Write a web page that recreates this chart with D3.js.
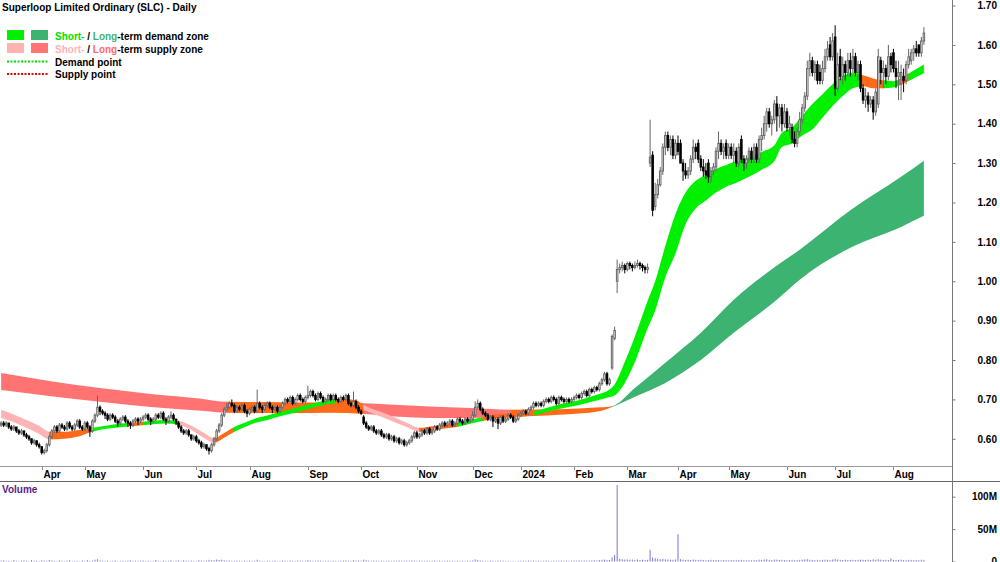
<!DOCTYPE html>
<html>
<head>
  <meta charset="utf-8">
  <style>
    body { margin: 0; background: #fff; }
    svg { display: block; font-family: "Liberation Sans", Arial, sans-serif; }
  </style>
</head>
<body>
  <div id="chart"></div>
  <script src="https://d3js.org/d3.v7.min.js"></script>
  <script>
    // daily bars, prices in cents (Mar 2023 - Aug 2024, trading days only)
    var opens = [
      63.5,64,63.5,64,63,62.5,63,62,61.5,62, 61,60.5,60,59,59.5,58.5,58,56.5,57,58.5,
      60.5,62,63,62,63.5,63,62.5,64,63,62.5, 63.5,64.5,63,62.5,64,63,62,64.5,66,68,
      67,66.5,66,65,66,65.5,64.5,64,65,65.5, 64.5,64,63.5,64.5,65,64.5,65,65.5,66,65,
      64.5,65,66,65.5,66.5,65,64.5,65.5,66,65, 64,63,62,61.5,62,61,60,60.5,59.5,59,
      58,58.5,57.5,57,58.5,60,62,63.5,66,67.5, 68,69,68.5,67,68,67.5,68.5,67,66.5,67.5,
      68,67,69,68,67.5,68.5,69,68,67.5,68, 67,68,69,70,69.5,70.5,69,70,71,70,
      69.5,70.5,71,72,71,70,71.5,70.5,69.5,70, 71,70,71,70,69.5,70.5,70,71,69,68.5,
      69.5,68,67,65.5,64,63,62.5,63,62,61.5, 62,61,60.5,61,60,60.5,59.5,60,59,59.5,
      58.5,59,59.5,60.5,61.5,60.5,61,62,61.5,62.5, 61.5,62,63,62.5,63.5,64,63.5,64,64.5,63.5,
      64,65,64.5,64,65,64.5,65,66,68,69, 67.5,66.5,66,65,65.5,64.5,65,64,65.5,64.5,
      65,66,65.5,64.5,65,66,66.5,67,66.5,67.5, 68,69,68.5,69,68.5,69.5,70,69.5,70.5,70,
      69,70.5,70,69.5,70,69.5,70,70.5,71,70.5, 71.5,72,71,72.5,72,73,72.5,74,75,76.5,
      74,78,85.5,100,103,103.5,104,103,104.5,104, 103.5,104,104.5,104,103.5,103,130,132,119,122,
      124.5,128,134,137,134,136,132,135,135,130, 128,127,128,131,134,135,131,129,128,130,
      126.5,128,129,133,135,133,135,132,134,132, 133,130,136,131,130,131,133,131,134,131,
      136,137,140,143,140,141,145,142,144,140, 143,139,139,136,135,138,141,144,147,154,
      156,153,155,153,151,154,157,160,157,162, 149,157,152,155,153,156,154,157,153,155,
      149,146,147,145,146,143,145,156,153,154, 152,157,158,154,152,150,152,151,155,156,
      158,159,160,158,161
    ];
    var highs = [
      64.5,64.5,64.5,64,63.5,63.5,63,62.5,62.5,62, 61.5,61,60,60,59.5,59,58,57.5,59,61,
      62.5,63.5,63.5,64,64,63.5,64.5,64.5,63.5,64, 65,65,63.5,64.5,64.5,63.5,65,66.5,71,68.5,
      67.5,67,66.5,66.5,66.5,66,65,65.5,66,66, 65,64.5,65,65.5,65.5,65.5,66,66.5,66.5,65.5,
      65.5,66.5,66.5,67,67,65.5,66,67,66.5,65, 64.5,63.5,62.5,62.5,62.5,61,61,61,60,59.5,
      59,58.5,58,59,60.5,62.5,64,66.5,68,69, 69.5,70,69,68.5,68.5,69,69,67.5,68,68.5,
      68.5,72.5,69.5,68.5,69,69.5,69.5,68.5,68.5,68.5, 68.5,69.5,70.5,70.5,71,71,70.5,71.5,71.5,70.5,
      71,73.5,72.5,72.5,71.5,72,72,71,70.5,71.5, 71.5,71.5,71.5,70.5,71,71,71.5,71.5,69.5,72,
      70,68.5,67.5,66,64.5,63.5,63.5,63.5,62.5,62.5, 62.5,61.5,61.5,61.5,61,61,60.5,60.5,60,60,
      59.5,60,61,62,62,61.5,62.5,62.5,63,63, 62.5,63.5,63.5,64,64.5,64.5,64.5,65,65,64.5,
      65.5,65.5,65,65.5,65.5,65.5,67,69.5,70,69.5, 68,67,66.5,66,66,65.5,65.5,66,66,65.5,
      66.5,66.5,66,65.5,66.5,67,67.5,67.5,68,68.5, 69.5,69.5,69.5,69.5,70,70.5,70.5,71,71,70.5,
      71,71,70.5,70.5,70.5,70.5,71,71.5,71.5,72, 72.5,72.5,73,73,73.5,73.5,74.5,75.5,77,77,
      75.5,86.5,88.5,105.5,104.5,105,104.5,105,105,104.5, 105,105.5,105,104.5,104,104.5,141,133,125,126,
      129,135,138,138,137,137,136,137,136,131, 130,129,132,136,135,136,132,131,130,131,
      129,130,134,138,136,135,136,135,135,135, 134,135,137,132,132,134,134,135,135,137,
      139,142,144,144,142,146,147,145,145,145, 144,142,140,138,139,143,145,148,156,158,
      157,156,156,155,156,159,161,162,163,165, 158,159,157,156,158,158,159,158,156,156,
      150,149,148,147,147,149,159,157,156,155, 160,158,159,156,156,155,154,156,159,159,
      160,161,160,162,164.5
    ];
    var lows = [
      63,63,63,62.5,62,62,61.5,61,61,60.5, 60,59.5,58.5,58.5,58,57.5,56,56,56.5,58,
      60,61.5,61.5,61.5,62.5,62,62,62.5,62,62, 63,62.5,62,62,62.5,60.5,61.5,64,65.5,66,
      66,65,64.5,64.5,65,64,63,63.5,64.5,64, 63,62.5,63,64,63.5,64,64.5,65,64.5,63.5,
      64,64.5,65,65,64.5,63.5,64,65,64.5,63.5, 62.5,61.5,61,61,60.5,59.5,59.5,59,58.5,57.5,
      57.5,57,56,56.5,58,59.5,61.5,63,65.5,67, 67.5,68,66.5,66.5,67,67,66.5,65.5,66,67,
      66.5,66.5,67.5,66.5,67,68,67.5,66.5,67,66.5, 66.5,67.5,68.5,69,69,68.5,68.5,69.5,69.5,69,
      69,70,70.5,70.5,69.5,69.5,70,69,69,69.5, 69.5,69.5,69.5,69,69,69.5,69.5,68.5,68,68,
      67.5,66.5,66,63.5,62.5,62,62,61.5,61,61, 60.5,60,60,59.5,59.5,59,59,58.5,58.5,58,
      58,58.5,59,60,60,60,60.5,61,61,61, 61,61.5,62,62,63,63,63,63.5,63,63,
      63.5,64,63.5,63.5,64,64,64.5,65.5,67.5,67, 66,65.5,64.5,64.5,63,64,62.5,63.5,64,64,
      64.5,65,64,64,64.5,65.5,66,66,66,67, 67.5,68,68,68,68,69,69,69,69.5,68.5,
      68.5,69.5,69,69,69,69,69.5,70,70,70, 71,70.5,70.5,71.5,71.5,72,72,73.5,74.5,73.5,
      73.5,77.5,85,97,102,102.5,102,102.5,103,102.5, 103,103.5,103,102.5,102,102,129,116.5,118,121,
      124,127,132,133,132,131,131,132,130,125.5, 126,126,127,130,131,130,128,126.5,126,125,
      125,127,128,131,132,131,131,131,131,130, 129,129,130,128,128.5,130,130,130,130,130,
      133,136,138,139,137,140,138,139,138,139, 138,137,135,134,134,137,140,143,146,152,
      152,151,150,150,150,153,156,156,156,147, 148,151,150,151,152,152,153,152,151,148,
      145,144,143,144,141,142,144,150,149,150, 151,153,153,149,146,146,148,150,154,155,
      156,157,157,157,160
    ];
    var closes = [
      64,63.5,64,63,62.5,63,62,61.5,62,61, 60.5,60,59,59.5,58.5,58,56.5,57,58.5,60.5,
      62,63,62,63.5,63,62.5,64,63,62.5,63.5, 64.5,63,62.5,64,63,62,64.5,66,68,67,
      66.5,66,65,66,65.5,64.5,64,65,65.5,64.5, 64,63.5,64.5,65,64.5,65,65.5,66,65,64.5,
      65,66,65.5,66.5,65,64.5,65.5,66,65,64, 63,62,61.5,62,61,60,60.5,59.5,59,58,
      58.5,57.5,57,58.5,60,62,63.5,66,67.5,68, 69,68.5,67,68,67.5,68.5,67,66.5,67.5,68,
      67,69,68,67.5,68.5,69,68,67.5,68,67, 68,69,70,69.5,70.5,69,70,71,70,69.5,
      70.5,71,72,71,70,71.5,70.5,69.5,70,71, 70,71,70,69.5,70.5,70,71,69,68.5,69.5,
      68,67,66.5,64,63,62.5,63,62,61.5,62, 61,60.5,61,60,60.5,59.5,60,59,59.5,58.5,
      59,59.5,60.5,61.5,60.5,61,62,61.5,62.5,61.5, 62,63,62.5,63.5,64,63.5,64,64.5,63.5,64,
      65,64.5,64,65,64.5,65,66,68,69,67.5, 66.5,66,65,65.5,64.5,65,64,65.5,64.5,65,
      66,65.5,64.5,65,66,66.5,67,66.5,67.5,68, 69,68.5,69,68.5,69.5,70,69.5,70.5,70,69,
      70.5,70,69.5,70,69.5,70,70.5,71,70.5,71.5, 72,71,72.5,72,73,72.5,74,75,76.5,74,
      75,86,87.5,103,103.5,104,103,104.5,104,103.5, 104,104.5,104,103.5,103,103.5,131.5,118,122,124.5,
      128,134,137,134,136,132,135,133,130,128, 127,128,131,134,133,131,129,128,127,126.5,
      128,129,133,135,133,134,132,134,132,133, 130,134,131,130,131,133,131,134,131,136,
      137,140,143,140,141,145,142,144,140,143, 139,140,136,135,138,141,144,147,154,156,
      153,155,151,151,154,157,159,157,161,149, 155,152,155,153,156,154,157,153,155,149,
      146,147,145,146,143,148,157,153,154,152, 157,155,154,152,153,153,151,155,157,158,
      159,158,158,161,163
    ];
    // volume in millions of shares
    var volumes = [
      1.5,2,1,1.2,0.8,2.2,1,0.6,1.4,1.8, 1,0.7,2.5,1.1,1.3,0.9,2,1.5,1.2,2.4,
      1.6,1,0.8,1.9,1.2,0.7,1.4,2.1,0.9,1.1, 1.3,0.6,1.7,1,2.2,0.8,1.5,2.8,3.5,1.6,
      1.2,0.9,1.4,0.7,1.1,1.8,0.6,1,1.3,0.9, 1.5,2,0.8,1.1,0.7,1.2,1.6,0.9,1.3,0.8,
      1,2.3,1.2,0.7,1.5,0.9,1.1,1.8,0.6,1.4, 1.7,1,2,1.3,0.9,1.5,1.2,0.8,2.1,1.6,
      1.1,1.4,2.6,1.9,2.2,3,2.4,2.8,1.9,1.5, 1.6,1.2,0.9,1.4,1.1,0.8,1.3,1,1.5,0.9,
      1.2,2.7,1.4,1,0.8,1.3,0.9,1.1,1.6,0.7, 1,1.4,1.2,0.8,1.5,1.1,0.9,1.7,1.3,1,
      1.2,2.5,1.5,1.1,0.9,1.6,1.2,0.8,1,1.4, 0.9,1.3,1.1,0.7,1.2,1.5,1.8,1.1,0.9,2.2,
      1.3,1.6,1.2,2.8,1.9,1.4,1,1.5,1.2,0.9, 1.3,1.1,0.8,1.4,1,1.2,0.9,1.6,1.1,1.3,
      1.5,1.2,1.8,1.4,1,1.3,1.1,0.9,1.4,1, 1.2,1.6,1,1.3,0.8,1.1,1.4,1,1.2,0.9,
      1.3,1,1.1,0.8,1.2,1,1.6,3.2,2.4,1.5, 1.2,1,0.9,1.3,1.1,0.8,1.4,1,1.2,0.7,
      1,0.6,0.8,0.5,0.9,1.1,1.3,1,1.5,1.2, 1.4,1,1.2,0.9,1.1,1.6,1.2,1,1.3,0.9,
      1.2,1.5,1,1.3,1.1,1.4,1.6,1.2,1.9,1.4, 1.7,1.3,1.5,1.8,2,1.6,2.3,2.6,3,2.2,
      2.5,6.5,10,118,4,3.5,3,3.2,2.8,3, 2.6,3.1,2.4,2.8,2.2,2.5,18,6,5,4.2,
      3.5,4,3.2,3,2.8,2.6,3.1,42,3.4,2.9, 2.5,2.8,2.4,3,2.6,2.2,2.7,2.4,2,2.3,
      2.6,2.1,2.5,2.3,1.9,2.4,2.2,1.8,2.5,2.1, 1.9,2.3,2.6,2,1.7,2.2,1.9,2.4,2,2.8,
      2.3,3.1,3.4,2.5,2.2,3,2.8,2.4,2.6,2.1, 2,2.3,2.6,1.9,2.2,2.5,2.8,3.2,3.5,2.7,
      2.4,2.2,2.6,2.1,2.5,2.8,2.6,2.4,3,4, 3.1,2.5,2.3,2.7,2.2,2.4,2.6,2.1,2.5,2.8,
      2.6,2.3,2.9,2.4,3.2,2.7,3.5,2.8,2.4,2.6, 2.3,4.5,2.6,2.2,2.5,2.9,2.3,2.1,2.6,2.4,
      2.2,2.5,2.1,2.7,2.4
    ];

    // month labels and the trading-day index where each month starts
    var monthLabels = ["Apr","May","Jun","Jul","Aug","Sep","Oct","Nov","Dec","2024","Feb","Mar","Apr","May","Jun","Jul","Aug"];
    var monthStarts = [16,33,56,77,98,121,142,164,186,205,226,247,267,287,310,329,352];

    // short-term zone edges (cents) at sampled trading days
    var shortIdx = [0,5,10,15,19,25,30,35,40,45,50,55,60,65,70,75,80,84,88,92,95,100,105,110,115,120,125,130,135,140,143,
      150,155,160,165,170,175,180,185,190,195,200,205,210,215,220,225,230,235,240,242,246,250,255,258,262,266,270,274,278,
      282,286,290,295,300,305,308,312,316,320,324,328,332,336,340,344,348,352,356,360,364];
    var shortTop = [67.4,66.2,64.8,63.3,61.8,61.8,62.2,62.7,63.2,63.7,64,64.3,64.6,64.8,64.6,63.3,61.5,60.2,61.5,63,63.8,65.1,65.9,66.8,67.6,68.5,69.3,70,70.2,69.8,68.6,
      66.8,65.5,64.1,62.8,63.2,63.6,64,64.8,65.5,66.2,66.4,66.6,66.9,67.8,68.7,69.4,70.2,71.2,72.5,73.8,79.5,86,95,100,109,117,122.5,125.5,127,
      128.5,129.5,130.5,131.5,132.8,134.5,137.7,139,142,145,147.5,150,152,153,152.3,151.5,151,150.8,152,153.5,155];
    var shortBot = [65.3,64.2,62.8,61.2,59.8,60,60.5,61.6,62.4,62.8,63.1,63.4,63.7,63.9,63.6,62.3,60.2,59,60.3,61.8,62.7,64,64.8,65.7,66.5,67.4,68.2,68.9,69,68.5,67.4,
      65.6,64.3,63,61.8,62.1,62.6,63,63.8,64.5,65.2,65.4,65.6,65.9,66.8,67.6,68.2,68.9,69.7,70.6,71,74.2,79.5,88,92.5,101,107,114.5,118.5,120.5,
      122.5,124,125,126.5,128.3,130.5,134.1,135,137,138.5,141.5,144.5,147,149,149.5,149,149,149.2,150.2,151.5,152.8];
    var shortZones = [
      {from:0,to:19,kind:"supply"},{from:19,to:35,kind:"neutral"},{from:35,to:50,kind:"demand"},
      {from:50,to:56,kind:"neutral"},{from:56,to:70,kind:"demand"},{from:70,to:84,kind:"supply"},
      {from:84,to:92,kind:"neutral"},{from:92,to:132,kind:"demand"},{from:132,to:143,kind:"neutral"},
      {from:143,to:165,kind:"supply"},{from:165,to:180,kind:"neutral"},{from:180,to:190,kind:"demand"},
      {from:190,to:210,kind:"neutral"},{from:210,to:339,kind:"demand"},{from:339,to:348,kind:"neutral"},
      {from:348,to:354,kind:"demand"},{from:354,to:358,kind:"neutral"},{from:358,to:364,kind:"demand"}
    ];

    // long-term zone edges (cents)
    var longIdx = [0,19,39,59,79,89,110,130,143,157,169,185,201,220,236,241,250,262,276,289,306,315,335,355,364];
    var longTop = [76.7,74.7,72.9,71.4,70.2,69.4,69.3,69.2,69,68.6,68.2,67.8,67.4,67.5,68,68.3,72.9,79.3,86.9,95.3,104,108,118,126.5,130.6];
    var longBot = [72.4,70.9,69.4,68.1,67.1,66.6,66.5,66.6,66.3,65.6,65.3,65.3,65.6,66.1,67,68.1,70.7,74.2,80,86.9,95.3,100.4,108.5,113.8,116.6];
    var longZones = [
      {from:0,to:89,kind:"supply"},{from:89,to:143,kind:"neutral"},{from:143,to:201,kind:"supply"},
      {from:201,to:241,kind:"neutral"},{from:241,to:364,kind:"demand"}
    ];

    var priceTicks = [60,70,80,90,100,110,120,130,140,150,160,170];
    var volTicks = [0,50,100];
    var volTickLabels = ["0","50M","100M"];

    var shortColors = {supply: "#ffb3b3", neutral: "#ff6a1a", demand: "#00f000"};
    var longColors = {supply: "#ff7373", neutral: "#ff6a1a", demand: "#3cb371"};

    var width = 1000, height = 562,
        axisX = 952, priceBottom = 466, dateBottom = 481;

    var svg = d3.select("#chart").append("svg")
        .attr("width", width)
        .attr("height", height)
        .style("background", "#fff");
    var defs = svg.append("defs");

    var x = d3.scaleLinear().domain([0, closes.length - 1]).range([1.14, 1.14 + 2.535 * (closes.length - 1)]);
    var y = d3.scaleLinear().domain([53.1, 171.4]).range([priceBottom, 0]);
    var yv = d3.scaleLinear().domain([0, 100]).range([561.5, 496.7]);

    var plot = svg.append("g");

    function drawBand(idx, top, bot, zones, colors, name) {
      var area = d3.area()
          .x(function (d) { return x(d); })
          .y0(function (d, k) { return y(bot[k]); })
          .y1(function (d, k) { return y(top[k]); })
          .curve(d3.curveMonotoneX);
      zones.forEach(function (z, n) {
        var id = name + n;
        defs.append("clipPath").attr("id", id).append("rect")
            .attr("x", x(z.from) - 0.3)
            .attr("width", x(z.to) - x(z.from) + 0.6)
            .attr("y", 0).attr("height", priceBottom);
        plot.append("path").datum(idx)
            .attr("d", area)
            .attr("fill", colors[z.kind])
            .attr("clip-path", "url(#" + id + ")");
      });
    }

    drawBand(longIdx, longTop, longBot, longZones, longColors, "lz");
    drawBand(shortIdx, shortTop, shortBot, shortZones, shortColors, "sz");

    // candles
    var bars = plot.append("g").selectAll("g")
        .data(closes.map(function (c, i) { return {i: i, o: opens[i], h: highs[i], l: lows[i], c: c}; }))
        .enter().append("g");

    bars.append("line")
        .attr("x1", d => x(d.i)).attr("x2", d => x(d.i))
        .attr("y1", d => y(d.h)).attr("y2", d => y(d.l))
        .attr("stroke", d => d.c >= d.o ? "#666" : "#000")
        .attr("stroke-width", 1);

    bars.append("rect")
        .attr("x", d => x(d.i) - 0.75)
        .attr("width", 1.5)
        .attr("y", d => y(Math.max(d.o, d.c)))
        .attr("height", d => Math.max(0.6, Math.abs(y(d.o) - y(d.c))))
        .attr("fill", d => d.c >= d.o ? "#fff" : "#000")
        .attr("stroke", d => d.c >= d.o ? "#666" : "#000")
        .attr("stroke-width", 1);

    // volume
    svg.append("g").selectAll("rect")
        .data(volumes)
        .enter().append("rect")
        .attr("x", (d, i) => x(i) - 0.5)
        .attr("width", 1)
        .attr("y", d => yv(d))
        .attr("height", d => yv(0) - yv(d))
        .attr("fill", "#7676d6");

    // frame lines
    svg.append("line").attr("x1", 0).attr("x2", axisX).attr("y1", priceBottom + 0.5).attr("y2", priceBottom + 0.5)
        .attr("stroke", "#9a9a9a");
    svg.append("line").attr("x1", 0).attr("x2", width).attr("y1", dateBottom + 0.5).attr("y2", dateBottom + 0.5)
        .attr("stroke", "#666");
    svg.append("line").attr("x1", axisX + 0.5).attr("x2", axisX + 0.5).attr("y1", 0).attr("y2", height)
        .attr("stroke", "#777");

    // price axis
    var yAxis = svg.append("g")
        .attr("transform", "translate(" + (axisX + 0.5) + ",0)")
        .call(d3.axisRight(y).tickValues(priceTicks).tickSize(3).tickPadding(0)
          .tickFormat(d => (d / 100).toFixed(2)));
    yAxis.select(".domain").remove();
    yAxis.selectAll("line").attr("stroke", "#777");
    yAxis.selectAll("text")
        .attr("x", 44.5).attr("text-anchor", "end")
        .attr("font-size", 10).attr("font-weight", "bold")
        .attr("font-family", "Liberation Sans, Arial, sans-serif").attr("fill", "#000");

    // volume axis
    var vAxis = svg.append("g")
        .attr("transform", "translate(" + (axisX + 0.5) + ",0)")
        .call(d3.axisRight(yv).tickValues(volTicks).tickSize(3).tickPadding(0)
          .tickFormat((d, k) => volTickLabels[k]));
    vAxis.select(".domain").remove();
    vAxis.selectAll("line").attr("stroke", "#777");
    vAxis.selectAll("text")
        .attr("x", 44.5).attr("text-anchor", "end")
        .attr("font-size", 10).attr("font-weight", "bold")
        .attr("font-family", "Liberation Sans, Arial, sans-serif").attr("fill", "#000");

    // month axis
    var months = svg.append("g");
    monthStarts.forEach(function (m, k) {
      var mx = Math.round(x(m)) + 0.5;
      months.append("line").attr("x1", mx).attr("x2", mx).attr("y1", priceBottom + 1).attr("y2", priceBottom + 4)
          .attr("stroke", "#888");
      months.append("text").attr("x", mx + 1).attr("y", 477.5)
          .attr("font-size", 10).attr("font-weight", "bold").text(monthLabels[k]);
    });

    // title and legend
    svg.append("text").attr("x", 2).attr("y", 11)
        .attr("font-size", 10).attr("font-weight", "bold").text("Superloop Limited Ordinary (SLC) - Daily");

    var legend = svg.append("g").attr("font-size", 10).attr("font-weight", "bold");
    legend.append("rect").attr("x", 7).attr("y", 30).attr("width", 17).attr("height", 10).attr("fill", shortColors.demand);
    legend.append("rect").attr("x", 31).attr("y", 30).attr("width", 17).attr("height", 10).attr("fill", longColors.demand);
    legend.append("rect").attr("x", 7).attr("y", 43).attr("width", 17).attr("height", 10).attr("fill", shortColors.supply);
    legend.append("rect").attr("x", 31).attr("y", 43).attr("width", 17).attr("height", 10).attr("fill", longColors.supply);
    legend.append("line").attr("x1", 7).attr("x2", 48).attr("y1", 61.5).attr("y2", 61.5)
        .attr("stroke", "#00dd00").attr("stroke-width", 2).attr("stroke-dasharray", "2,1.5");
    legend.append("line").attr("x1", 7).attr("x2", 48).attr("y1", 74).attr("y2", 74)
        .attr("stroke", "#ee0000").attr("stroke-width", 2).attr("stroke-dasharray", "2,1.5");

    var t1 = legend.append("text").attr("x", 55).attr("y", 39.5);
    t1.append("tspan").attr("fill", "#00e000").text("Short-");
    t1.append("tspan").attr("fill", "#000").text(" / ");
    t1.append("tspan").attr("fill", longColors.demand).text("Long");
    t1.append("tspan").attr("fill", "#000").text("-term demand zone");

    var t2 = legend.append("text").attr("x", 55).attr("y", 52.5);
    t2.append("tspan").attr("fill", shortColors.supply).text("Short-");
    t2.append("tspan").attr("fill", "#000").text(" / ");
    t2.append("tspan").attr("fill", "#ff6a6a").text("Long");
    t2.append("tspan").attr("fill", "#000").text("-term supply zone");

    legend.append("text").attr("x", 55).attr("y", 65.5).text("Demand point");
    legend.append("text").attr("x", 55).attr("y", 78.3).text("Supply point");

    svg.append("text").attr("x", 2).attr("y", 493)
        .attr("font-size", 10).attr("font-weight", "bold").attr("fill", "#5a1e8c").text("Volume");
  </script>
</body>
</html>
